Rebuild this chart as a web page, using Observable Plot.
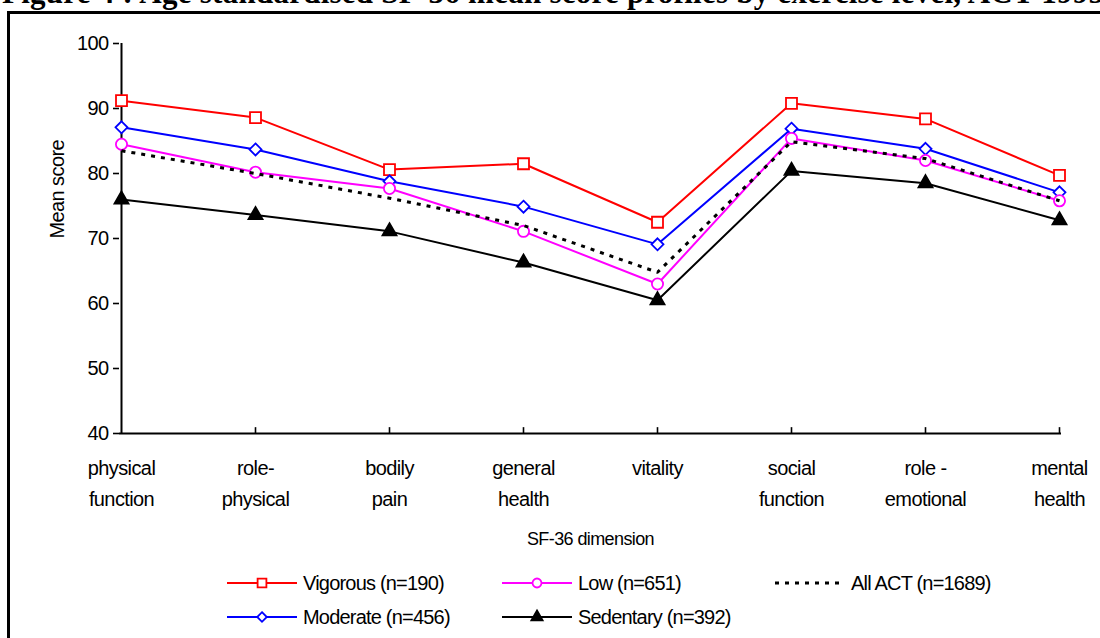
<!DOCTYPE html>
<html><head><meta charset="utf-8">
<script src="https://cdn.jsdelivr.net/npm/d3@7"></script>
<script src="https://cdn.jsdelivr.net/npm/@observablehq/plot@0.6"></script>
<style>
html,body{margin:0;padding:0;width:1100px;height:638px;overflow:hidden;background:#fff;font-family:"Liberation Sans",Arial,sans-serif;}
#frame{position:absolute;left:7px;top:11px;width:1300px;height:900px;border-top:3px solid #000;border-left:3px solid #000;}
#title{position:absolute;left:2px;top:-23px;white-space:nowrap;font-family:"Liberation Serif","Times New Roman",serif;font-weight:bold;font-size:31px;letter-spacing:0.25px;line-height:1;}
#chart{position:absolute;left:0;top:0;}
.leg{position:absolute;display:flex;align-items:center;font-size:20px;letter-spacing:-0.8px;height:26px;white-space:nowrap;}
.leg svg{margin-right:6px;overflow:visible}
</style></head><body>
<div id="title">Figure 4 : Age standardised SF-36 mean score profiles by exercise level, ACT 1995</div>
<div id="frame"></div>
<div id="chart"></div>
<div id="legend"></div>
<script>
// ---- data ----
const categories = ["physical function","role-physical","bodily pain","general health","vitality","social function","role - emotional","mental health"];
const categoryLabels = ["physical\nfunction","role-\nphysical","bodily\npain","general\nhealth","vitality","social\nfunction","role -\nemotional","mental\nhealth"];
const vigorous  = [91.2, 88.6, 80.6, 81.5, 72.5, 90.8, 88.4, 79.7];
const moderate  = [87.1, 83.7, 78.8, 74.9, 69.1, 86.9, 83.8, 77.1];
const low       = [84.5, 80.2, 77.7, 71.1, 63.0, 85.4, 82.0, 75.8];
const allAct    = [83.5, 80.0, 76.2, 72.0, 64.8, 84.9, 82.3, 75.8];
const sedentary = [76.0, 73.6, 71.1, 66.3, 60.5, 80.4, 78.5, 72.8];
const yTicks = [40, 50, 60, 70, 80, 90, 100];
const seriesNames = ["Vigorous (n=190)","Moderate (n=456)","Low (n=651)","Sedentary (n=392)","All ACT (n=1689)"];

// ---- styles ----
const styles = {
  "Vigorous (n=190)":  {values: vigorous,  color: "#ff0000", symbol: "square",   r: 6.2, fill: "white"},
  "Moderate (n=456)":  {values: moderate,  color: "#0000ff", symbol: "diamond2", r: 5.4, fill: "white"},
  "Low (n=651)":       {values: low,       color: "#ff00ff", symbol: "circle",   r: 5.6, fill: "white"},
  "Sedentary (n=392)": {values: sedentary, color: "#000000", symbol: "triangle", r: 5.2, fill: "black"},
  "All ACT (n=1689)":  {values: allAct,    color: "#000000", symbol: null, dash: "4,6", width: 3}
};

const rows = seriesNames.flatMap(s => categories.map((c, i) => ({series: s, cat: c, value: styles[s].values[i]})));
const catRows = categories.map((c, i) => ({cat: c, label: categoryLabels[i]}));

const marks = [
  Plot.ruleY([40], {stroke: "black", strokeWidth: 2}),
  Plot.ruleX([categories[0]], {stroke: "black", strokeWidth: 2}),
  Plot.ruleX(categories.slice(1), {x: d => d, y1: 40, y2: 40.9, stroke: "black", strokeWidth: 1.6}),
  Plot.axisY({ticks: yTicks, tickSize: 6, tickPadding: 5, fontSize: 20, label: null, tickFormat: d => String(d), strokeWidth: 1.6}),
  Plot.text(catRows, {x: "cat", frameAnchor: "bottom", text: "label", dy: 19, lineAnchor: "top", lineHeight: 1.55, fontSize: 20}),
  Plot.text(["Mean score"], {frameAnchor: "left", text: d => d, rotate: -90, dx: -62, fontSize: 20}),
  Plot.text(["SF-36 dimension"], {frameAnchor: "bottom", text: d => d, dy: 111, fontSize: 18})
];

const drawOrder = ["Vigorous (n=190)","Moderate (n=456)","Low (n=651)","All ACT (n=1689)","Sedentary (n=392)"];
for (const s of drawOrder) {
  const st = styles[s];
  const data = rows.filter(d => d.series === s);
  marks.push(Plot.line(data, {x: "cat", y: "value", stroke: st.color, strokeWidth: st.width || 2, strokeDasharray: st.dash || null, strokeLinecap: "butt"}));
  if (st.symbol) {
    marks.push(Plot.dot(data, {x: "cat", y: "value", symbol: st.symbol, r: st.r, stroke: st.color, fill: st.fill, strokeWidth: 1.8}));
  }
}

const chart = Plot.plot({
  width: 1100,
  height: 560,
  marginLeft: 119,
  marginRight: 39,
  marginTop: 43,
  marginBottom: 127,
  x: {type: "point", domain: categories, padding: 0, axis: null},
  y: {domain: [40, 100]},
  style: {fontFamily: "'Liberation Sans', Arial, sans-serif", fontSize: "20px", letterSpacing: "-0.6px", color: "black", background: "transparent", overflow: "visible"},
  marks
});
document.getElementById("chart").appendChild(chart);

// ---- legend ----
const legendPos = [
  ["Vigorous (n=190)", 227, 583],
  ["Low (n=651)", 502, 583],
  ["All ACT (n=1689)", 775, 583],
  ["Moderate (n=456)", 227, 617],
  ["Sedentary (n=392)", 502, 617]
];
const symMap = {square: d3.symbolSquare, diamond2: d3.symbolDiamond2, circle: d3.symbolCircle, triangle: d3.symbolTriangle};
const leg = d3.select("#legend");
for (const [name, x, y] of legendPos) {
  const st = styles[name];
  const div = leg.append("div").attr("class", "leg").style("left", x + "px").style("top", (y - 13) + "px");
  const svg = div.append("svg").attr("width", 70).attr("height", 20);
  svg.append("line").attr("x1", 0).attr("x2", 70).attr("y1", 10).attr("y2", 10)
    .attr("stroke", st.color).attr("stroke-width", st.dash ? 3 : 2).attr("stroke-dasharray", st.dash ? "4,6" : null);
  if (st.symbol) {
    const r = st.r * 0.8;
    svg.append("path").attr("transform", "translate(35,10)")
      .attr("d", d3.symbol(symMap[st.symbol], Math.PI * r * r)())
      .attr("fill", st.fill).attr("stroke", st.color).attr("stroke-width", 1.8);
  }
  div.append("span").text(name);
}
</script>
</body></html>
